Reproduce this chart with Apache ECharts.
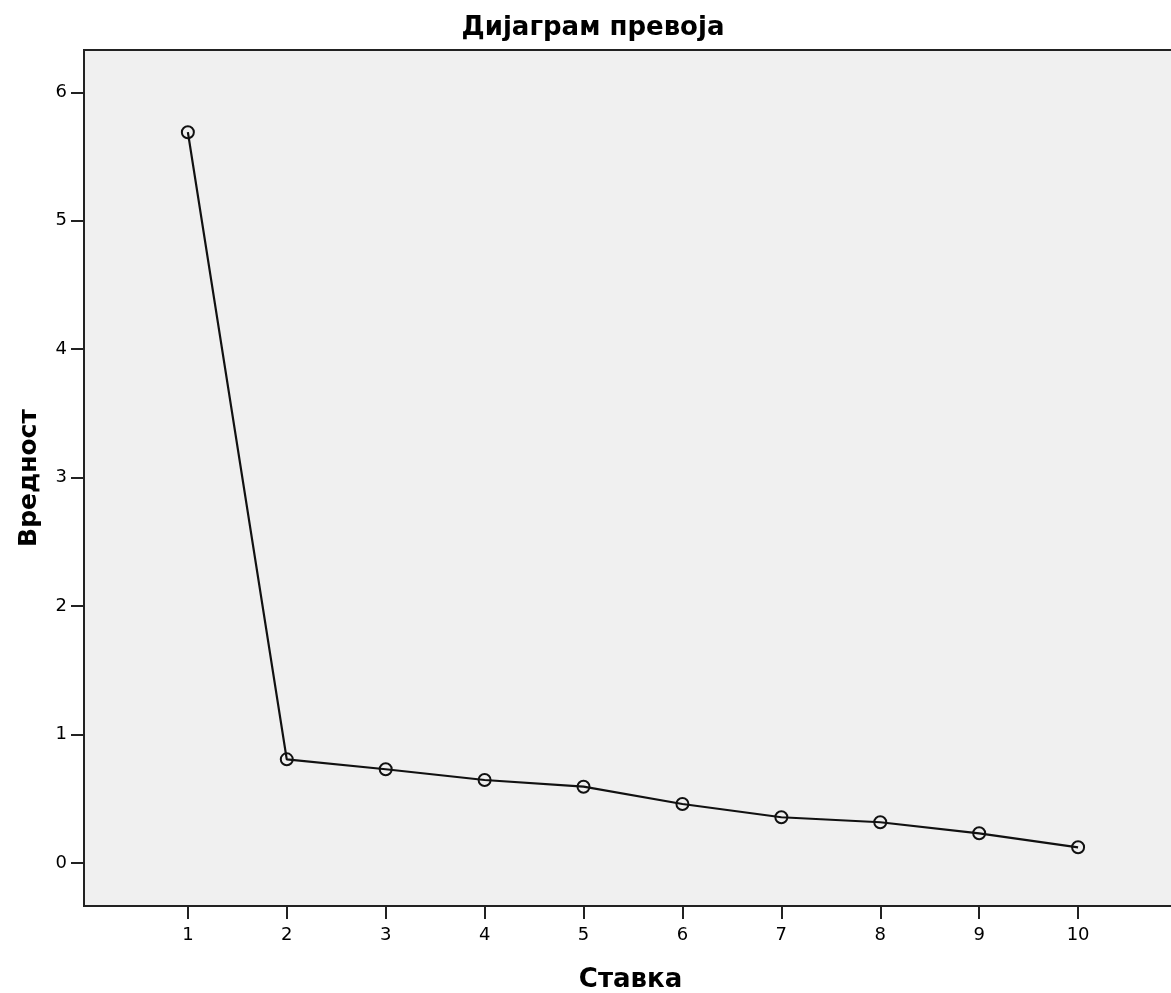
<!DOCTYPE html>
<html>
<head>
<meta charset="utf-8">
<script src="https://cdn.jsdelivr.net/npm/echarts@6/dist/echarts.min.js"></script>
<style>
html,body{margin:0;padding:0;background:#fff;}
#chart{width:1171px;height:993px;}
</style>
</head>
<body>
<div id="chart"></div>
<script>
const titleText = 'Дијаграм превоја';
const xAxisName = 'Ставка';
const yAxisName = 'Вредност';
const items = [1, 2, 3, 4, 5, 6, 7, 8, 9, 10];
const values = [5.69, 0.807, 0.73, 0.646, 0.594, 0.459, 0.356, 0.317, 0.231, 0.122];
const xTicks = [1, 2, 3, 4, 5, 6, 7, 8, 9, 10];
const yTicks = [0, 1, 2, 3, 4, 5, 6];

const chart = echarts.init(document.getElementById('chart'), null, {renderer: 'canvas'});
const font = 'DejaVu Sans';
chart.setOption({
  animation: false,
  backgroundColor: '#ffffff',
  title: {
    text: titleText,
    left: 588,
    textAlign: 'center',
    top: 10,
    textStyle: {fontFamily: font, fontWeight: 'bold', fontSize: 26, color: '#000'}
  },
  grid: {
    left: 84, top: 50, width: 1093, height: 856,
    outerBoundsMode: 'none',
    containLabel: false,
    show: true, backgroundColor: '#f0f0f0', borderColor: '#222', borderWidth: 2
  },
  xAxis: {
    type: 'value',
    min: -0.05, max: 11,
    name: xAxisName,
    nameLocation: 'middle',
    nameGap: 61,
    nameTextStyle: {fontFamily: font, fontWeight: 'bold', fontSize: 26, color: '#000'},
    axisLine: {show: true, onZero: false, lineStyle: {color: '#222', width: 2}},
    axisTick: {show: true, length: 13, customValues: xTicks, lineStyle: {color: '#222', width: 2}},
    axisLabel: {customValues: xTicks, fontFamily: font, fontSize: 18, color: '#000', margin: 20},
    splitLine: {show: false}
  },
  yAxis: {
    type: 'value',
    min: -0.335, max: 6.33,
    name: yAxisName,
    nameLocation: 'middle',
    nameGap: 42,
    nameRotate: 90,
    nameTextStyle: {fontFamily: font, fontWeight: 'bold', fontSize: 25, color: '#000'},
    axisLine: {show: true, onZero: false, lineStyle: {color: '#222', width: 2}},
    axisTick: {show: true, length: 13, customValues: yTicks, lineStyle: {color: '#222', width: 2}},
    axisLabel: {customValues: yTicks, fontFamily: font, fontSize: 18, color: '#000', margin: 17},
    splitLine: {show: false}
  },
  series: [{
    type: 'line',
    data: items.map((x, i) => [x, values[i]]),
    symbol: 'circle',
    symbolSize: 12,
    itemStyle: {color: 'rgba(0,0,0,0)', borderColor: '#111', borderWidth: 2},
    lineStyle: {color: '#111', width: 2.2},
    z: 3
  }]
});
</script>
</body>
</html>
